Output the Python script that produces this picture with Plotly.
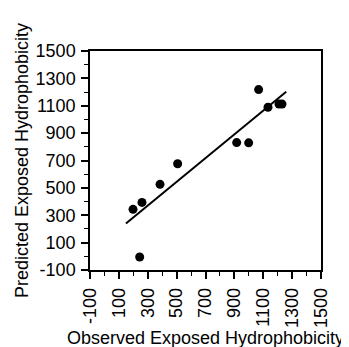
import plotly.graph_objects as go

observed = [198, 260, 244, 385, 507, 916, 999, 1068, 1133, 1209, 1230]
predicted = [343, 394, -5, 526, 676, 831, 829, 1218, 1089, 1112, 1112]
fit_x = [149, 1259]
fit_y = [240, 1202]
tick_vals = [-100, 100, 300, 500, 700, 900, 1100, 1300, 1500]
tick_text = [str(v) for v in tick_vals]

font = "Liberation Sans, Arial, sans-serif"

fig = go.Figure()
fig.add_trace(go.Scatter(x=fit_x, y=fit_y, mode="lines",
                         line=dict(color="black", width=2), showlegend=False))
fig.add_trace(go.Scatter(x=observed, y=predicted, mode="markers",
                         marker=dict(color="black", size=9), showlegend=False))

axis_common = dict(
    range=[-100, 1500], tickvals=tick_vals, ticktext=tick_text,
    showgrid=False, zeroline=False, showline=True, linecolor="black",
    linewidth=1.5, mirror=True, ticks="outside", ticklen=7, tickwidth=1.5,
    tickcolor="black", tickfont=dict(family=font, size=18, color="black"),
    ticklabelstandoff=2,
    minor=dict(ticks="outside", ticklen=4, tickwidth=1, tickcolor="black",
               dtick=100, tick0=-100, showgrid=False),
)

fig.update_layout(
    width=349, height=347,
    margin=dict(l=82, r=36, t=43, b=73),
    plot_bgcolor="white", paper_bgcolor="white",
    xaxis=dict(**axis_common, tickangle=-90,
               title=dict(text="Observed Exposed Hydrophobicity",
                          font=dict(family=font, size=18, color="black"),
                          standoff=2)),
    yaxis=dict(**axis_common,
               title=dict(text="Predicted Exposed Hydrophobicity",
                          font=dict(family=font, size=18, color="black"),
                          standoff=2)),
)

fig.write_html("out.html")
